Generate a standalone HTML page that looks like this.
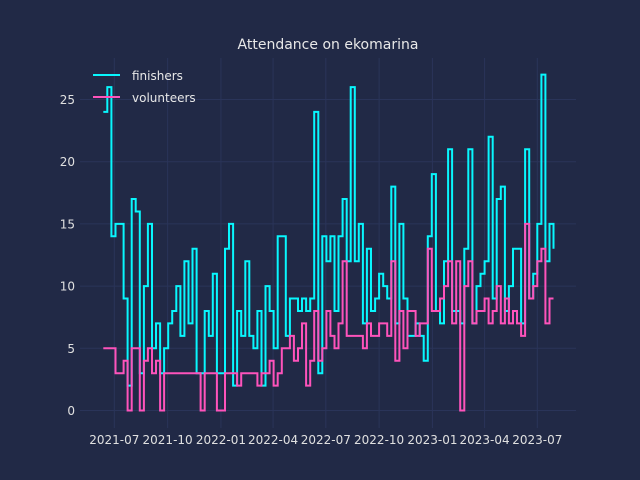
<!DOCTYPE html>
<html><head><meta charset="utf-8"><style>
html,body{margin:0;padding:0;background:#212946;}
svg{display:block;font-family:"DejaVu Sans","Liberation Sans",sans-serif;}
</style></head><body>
<svg id="chart" width="640" height="480" viewBox="0 0 640 480">
<rect x="0" y="0" width="640" height="480" fill="#212946"/>
<text x="328" y="49" text-anchor="middle" font-size="14" fill="#e8e8e8">Attendance on ekomarina</text>
<g id="grid"></g>
<g id="xticks"></g>
<g id="yticks"></g>
<g id="series"></g>
<g>
<line x1="93" y1="75" x2="120" y2="75" stroke="#08F7FE" stroke-width="2"/>
<text x="132" y="80" font-size="12" fill="#e8e8e8">finishers</text>
<line x1="93" y1="97" x2="120" y2="97" stroke="#FE53BB" stroke-width="2"/>
<text x="132" y="102" font-size="12" fill="#e8e8e8">volunteers</text>
</g>
</svg>
<script>
const startDate = "2021-06-12";
const finishers = [24,26,14,15,15,9,2,17,16,3,10,15,5,7,3,5,7,8,10,6,12,7,13,3,3,8,6,11,
3,3,13,15,2,8,6,12,6,5,8,2,10,8,5,14,14,6,9,9,8,9,8,9,24,3,14,12,14,
8,14,17,12,26,12,15,7,13,8,9,11,10,9,18,7,15,9,6,6,7,6,4,14,19,8,7,12,
21,8,8,7,13,21,7,10,11,12,22,9,17,18,8,10,13,13,7,21,9,11,15,27,12,15,13];
const volunteers = [5,5,5,3,3,4,0,5,5,0,4,5,3,4,0,3,3,3,3,3,3,3,3,3,0,3,3,3,
0,0,3,3,3,2,3,3,3,3,2,3,3,4,2,3,5,5,6,4,5,7,2,4,8,4,5,8,6,
5,7,12,6,6,6,6,5,7,6,6,7,7,6,12,4,8,5,8,8,6,7,7,13,8,8,9,10,
12,7,12,0,10,12,7,8,8,9,7,8,10,7,9,7,8,7,6,15,9,10,12,13,7,9,9];
const xTickLabels = ["2021-07","2021-10","2022-01","2022-04","2022-07","2022-10","2023-01","2023-04","2023-07"];
const yTickLabels = [0,5,10,15,20,25];

const NS="http://www.w3.org/2000/svg";
const t0=Date.UTC(2021,6,1), PXD=423/730, X0=114.3;
function xDate(s){const p=s.split("-").map(Number);return X0+(Date.UTC(p[0],p[1]-1,p[2]||1)-t0)/864e5*PXD;}
function xWeek(i){const p=startDate.split("-").map(Number);return X0+(Date.UTC(p[0],p[1]-1,p[2])+i*7*864e5-t0)/864e5*PXD;}
function y(v){return 410.5-v*12.44;}
const grid=document.getElementById("grid"),xt=document.getElementById("xticks"),yt=document.getElementById("yticks"),ser=document.getElementById("series");
function mk(tag,attrs,parent){const e=document.createElementNS(NS,tag);for(const k in attrs)e.setAttribute(k,attrs[k]);parent.appendChild(e);return e;}
xTickLabels.forEach(l=>{const x=xDate(l);
 const g=mk("line",{x1:x,x2:x,y1:58,y2:428,stroke:"#2A3459","stroke-width":1},grid);
 
 
 const t=mk("text",{x:x,y:444,"text-anchor":"middle","font-size":12,fill:"#e0e0e0"},xt);t.textContent=l;
 
 
});
yTickLabels.forEach(v=>{const yy=y(v);
 const g=mk("line",{x1:80,x2:576,y1:yy,y2:yy,stroke:"#2A3459","stroke-width":1},grid);
 
 
 const t=mk("text",{x:75,y:yy+4.5,"text-anchor":"end","font-size":12,fill:"#e0e0e0"},yt);t.textContent=v;
 
 
});
function stepPath(arr){let d="";const n=arr.length;
 for(let i=0;i<n-1;i++){d+=(i?"L":"M")+xWeek(i).toFixed(1)+","+y(arr[i]).toFixed(1)+"L"+xWeek(i+1).toFixed(1)+","+y(arr[i]).toFixed(1);}
 d+="L"+xWeek(n-1).toFixed(1)+","+y(arr[n-1]).toFixed(1);return d;}
const p1=mk("path",{d:stepPath(finishers),fill:"none",stroke:"#08F7FE","stroke-width":2,"stroke-linejoin":"miter"},ser);


const p2=mk("path",{d:stepPath(volunteers),fill:"none",stroke:"#FE53BB","stroke-width":2,"stroke-linejoin":"miter"},ser);


</script>
</body></html>
